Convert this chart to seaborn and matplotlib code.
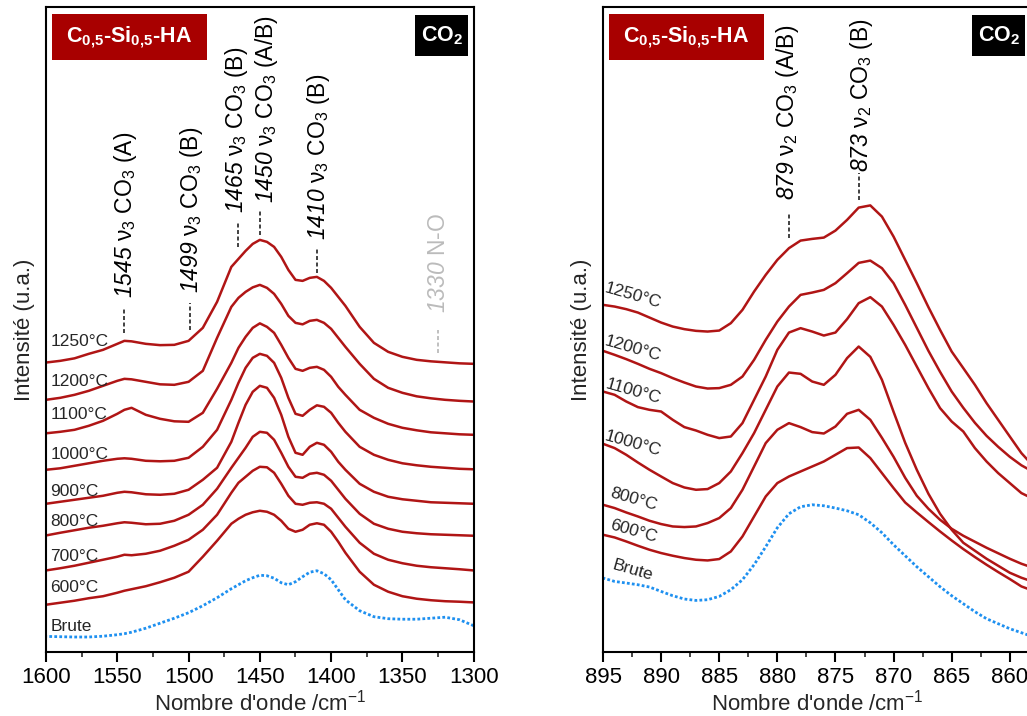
import matplotlib
matplotlib.use("Agg")
import matplotlib.pyplot as plt
import seaborn as sns
from matplotlib.patches import Rectangle
from matplotlib.ticker import MultipleLocator

# --- data (intensities in arbitrary units) ---
wn_left = [1600, 1590, 1580, 1570, 1560, 1550, 1545, 1540, 1530, 1520,
           1510, 1500, 1490, 1480, 1470, 1465, 1460, 1455, 1450, 1445,
           1440, 1435, 1430, 1425, 1420, 1415, 1410, 1405, 1400, 1395,
           1390, 1380, 1370, 1360, 1350, 1340, 1330, 1320, 1310, 1300]

left_1250 = [289.3, 291, 293.5, 298, 302, 308, 311, 310.5, 308, 306.7, 307, 311, 324, 350, 385, 393, 401, 408, 412, 410,
             405, 395, 382, 372, 371, 374, 375, 371, 364, 355, 346, 325, 309, 300, 295, 292, 290.5, 289.5, 288.5, 288]
left_1200 = [252, 254, 257, 261, 266, 271, 273, 272.5, 270, 267.5, 267, 270, 281, 314, 345, 354, 360, 364.5, 367, 364,
             358, 348, 336, 329, 327.5, 331, 332, 329, 323, 314, 305, 288, 273, 264, 259, 255.5, 253.5, 252, 251, 250.3]
left_1100 = [218.5, 220, 222, 226, 231, 238, 242, 244, 237, 233, 230.5, 230, 239, 263, 289, 304, 315, 324, 328.5, 325,
             319, 307, 294, 283, 281, 284, 285, 282, 275, 265, 257, 242, 234, 228, 224, 221.5, 219.5, 218.5, 217.5, 217]
left_1000 = [182, 183.5, 186, 188.5, 191, 193, 193.5, 193, 191, 190.5, 191, 194, 205, 222, 252, 269, 284, 294, 298, 296,
             289, 274, 254, 238, 236, 242, 246.5, 245, 239, 229, 220, 205, 197, 192, 188.5, 186.5, 185, 184, 183, 182.5]
left_900 = [148, 150, 152, 154, 156, 159, 160, 159.5, 157.5, 157, 158, 162, 172, 184, 210, 229, 247, 260, 266, 264,
            254, 237, 215, 199, 197, 205, 209, 207, 200, 190, 182, 168, 160, 155, 152.5, 151, 149.5, 149, 148.5, 148]
left_800 = [116.3, 119, 121.5, 124, 126, 128.5, 129.5, 129, 127.5, 128, 131, 137, 147, 163, 184, 194, 204, 215, 220, 219,
            212, 199, 185, 175, 174, 178, 179, 177, 171, 162, 153, 138, 128, 123, 120, 118.5, 117.5, 117, 116.5, 116]
left_700 = [81.3, 83.5, 86, 89, 92, 95, 97, 96.5, 98, 101, 106, 112, 122, 137, 159, 169, 175, 181, 185, 184.5,
            179, 168, 156, 148, 147, 149, 149.5, 148, 143, 134, 125, 109, 98, 92, 88.5, 86, 84.5, 83.5, 82.5, 81.3]
left_600 = [47, 49, 51, 53.5, 55.5, 59, 61, 62.5, 65.5, 69.5, 74, 80, 95, 111, 128, 133, 137, 139.5, 141, 140,
            137, 131, 123, 120, 122, 127, 128.5, 127, 120, 110, 99, 80, 67, 60, 55.5, 53, 51.5, 50.5, 50, 49.3]
left_brute = [15.3, 15, 14.7, 14.7, 15.5, 17, 18, 19.5, 23.5, 28.5, 33.5, 39, 46, 54, 63, 67, 71, 74, 76.5, 76,
              73.5, 69, 67, 70, 75, 79.5, 81, 78, 72, 62, 52, 41, 35, 33, 32.5, 32.5, 33.5, 34.5, 32, 26]

wn_right = [895, 894, 893, 892, 891, 890, 889, 888, 887, 886, 885, 884, 883, 882, 881, 880, 879, 878, 877,
            876, 875, 874, 873, 872, 871, 870, 869, 868, 867, 866, 865, 864, 863, 862, 861, 860, 859, 858]

right_1250 = [347, 345.3, 342.7, 339.3, 334.3, 329.3, 325.3, 322.7, 321, 320.3, 321.3, 328.7, 342, 360.3, 377, 392, 403.7, 411.3, 413,
              414.3, 421.3, 432, 444.3, 446.5, 435.3, 415.3, 392, 368.7, 344.7, 322, 300.3, 283.7, 267, 248.7, 232, 215.3, 198.7, 186]
right_1200 = [301, 297, 292.7, 288, 283, 278.7, 273.7, 269.3, 265.3, 263.3, 263.7, 267, 275.3, 292, 312, 330.3, 345.3, 357, 359.3,
              362, 368.7, 378.7, 389, 391.3, 383.7, 368.7, 347, 324, 301, 280, 260.3, 244, 229, 216, 205, 195, 186.5, 180]
right_1100 = [260.3, 257, 250.3, 244.7, 242, 240.3, 232, 224.7, 221.3, 217, 213.7, 215.3, 228.7, 252, 275.3, 302, 319.3, 323.7, 320.3,
              316.3, 319.3, 332.7, 348.7, 354.7, 345.3, 327, 307, 285.3, 263.7, 243.7, 230.3, 220.3, 203.7, 190.3, 178.7, 168.7, 158.7, 153]
right_1000 = [208, 203.7, 197, 189.3, 182, 175.3, 168.7, 164.3, 162, 162.7, 168.7, 180.3, 198.7, 218.7, 242, 265.3, 279.3, 278, 270.3,
              267, 277, 293.7, 305.3, 295, 272, 240, 209, 182, 158, 138, 122, 109, 101, 93, 86, 79, 74, 70]
right_800 = [147, 143.7, 139.3, 135.3, 131, 127.7, 125.3, 124.7, 125.3, 128.7, 133.7, 143.7, 162, 185.3, 208.7, 222, 228.7, 224.7, 219.7,
             218.3, 225.3, 238, 242, 232, 214, 195, 174, 156, 143, 132, 123, 116, 110, 104, 98.5, 93, 88, 84]
right_600 = [117, 114.3, 110.3, 106, 102, 98.7, 96, 93.7, 92, 91.3, 92.7, 100.3, 115.3, 135.3, 155.3, 168.7, 175.3, 180.3, 185.3,
             190.3, 197, 203.7, 204.3, 193.7, 178.7, 163.7, 149.3, 139.3, 129.7, 120.3, 111.3, 102.7, 94.7, 87, 79.7, 72.7, 65.3, 61]
right_brute = [73.7, 70.3, 68.7, 67, 64.7, 60.3, 56, 52.7, 51.3, 52, 55.3, 62, 72, 87, 105, 124, 138, 145, 147,
               146, 143.7, 141, 137, 129, 119, 107, 96, 85, 75, 65, 56, 48, 40, 33, 28, 23, 19, 15]

left_curves = [("1250°C", left_1250), ("1200°C", left_1200), ("1100°C", left_1100),
               ("1000°C", left_1000), ("900°C", left_900), ("800°C", left_800),
               ("700°C", left_700), ("600°C", left_600), ("Brute", left_brute)]
right_curves = [("1250°C", right_1250), ("1200°C", right_1200), ("1100°C", right_1100),
                ("1000°C", right_1000), ("800°C", right_800), ("600°C", right_600),
                ("Brute", right_brute)]

RED = "#B01515"
BLUE = "#1E90F0"

sns.set_style("ticks")
plt.rcParams["font.family"] = ["Liberation Sans", "DejaVu Sans"]
plt.rcParams["mathtext.fontset"] = "custom"
plt.rcParams["mathtext.rm"] = "Liberation Sans"
plt.rcParams["mathtext.it"] = "Liberation Sans:italic"
plt.rcParams["mathtext.sf"] = "Liberation Sans:italic"   # used for the italic band numbers
plt.rcParams["mathtext.bf"] = "Liberation Sans:bold"

fig = plt.figure(figsize=(10.27, 7.16), dpi=100)
fig.patch.set_facecolor("white")
W, H = 1027, 716
axL = fig.add_axes([46 / W, 1 - 651.7 / H, 427.7 / W, 644.7 / H])
axR = fig.add_axes([603 / W, 1 - 651.7 / H, 427.7 / W, 644.7 / H])


def draw(ax, wn, curves):
    for name, vals in curves:
        if name == "Brute":
            sns.lineplot(x=wn, y=vals, ax=ax, color=BLUE, lw=2.0,
                         linestyle=(0, (1, 0.8)), legend=False)
        else:
            sns.lineplot(x=wn, y=vals, ax=ax, color=RED, lw=1.8, legend=False)


def style(ax, xlim, major, minor):
    ax.set_xlim(*xlim)
    ax.set_ylim(0, 645)
    ax.set_yticks([])
    ax.xaxis.set_major_locator(MultipleLocator(major))
    ax.xaxis.set_minor_locator(MultipleLocator(minor))
    ax.tick_params(axis="x", which="major", direction="out", length=7, width=1.5,
                   labelsize=16, pad=4, colors="black")
    ax.tick_params(axis="x", which="minor", direction="out", length=3.5, width=1.2)
    for sp in ax.spines.values():
        sp.set_linewidth(1.5)
        sp.set_color("black")
        sp.set_visible(True)
    ax.set_xlabel("Nombre d'onde /cm$^{-1}$", fontsize=16, labelpad=1)
    ax.set_ylabel("Intensité (u.a.)", fontsize=16, labelpad=8)
    # sample / atmosphere tags
    ax.add_patch(Rectangle((0.0133, 0.9178), 0.3624, 0.0714, transform=ax.transAxes,
                           facecolor="#A80000", edgecolor="none", zorder=5, clip_on=False))
    ax.text(0.1945, 0.953, r"C$_{\mathbf{0{,}5}}$-Si$_{\mathbf{0{,}5}}$-HA", transform=ax.transAxes,
            ha="center", va="center", color="white", fontsize=15.5, fontweight="bold", zorder=6)
    ax.add_patch(Rectangle((0.8628, 0.924), 0.1246, 0.0636, transform=ax.transAxes,
                           facecolor="black", edgecolor="none", zorder=5, clip_on=False))
    ax.text(0.9251, 0.955, r"CO$_{\mathbf{2}}$", transform=ax.transAxes,
            ha="center", va="center", color="white", fontsize=15.5, fontweight="bold", zorder=6)


def mark(ax, x, y0, y1, ytxt, label, color="#333333", txtcolor="black", dx=0):
    ax.plot([x, x], [y0, y1], color=color, lw=1.3, linestyle=(0, (2.2, 1.4)))
    ax.text(x + dx, ytxt, label, rotation=90, ha="center", va="bottom",
            fontsize=16.5, color=txtcolor)


draw(axL, wn_left, left_curves)
style(axL, (1600, 1300), 50, 25)
draw(axR, wn_right, right_curves)
style(axR, (895, 858.2), 5, 2.5)

# left panel curve labels
left_label_y = [310, 270, 237, 197, 160, 130, 95, 64, 25]
for (name, _), y in zip(left_curves, left_label_y):
    axL.text(1597, y, name, ha="left", va="center", fontsize=12.5)

# right panel curve labels (tilted)
right_label_y = [356, 303, 260, 208, 152, 120, 81]
for (name, _), y in zip(right_curves, right_label_y):
    axR.text(892.4, y, name, ha="center", va="center", fontsize=12.5,
             rotation=-16, rotation_mode="anchor")

# band assignments
mark(axL, 1545, 319, 344, 354, r"$\mathsf{1545}$ ν$_3$ CO$_3$ (A)", dx=-1)
mark(axL, 1499, 322, 349, 359, r"$\mathsf{1499}$ ν$_3$ CO$_3$ (B)", dx=-1)
mark(axL, 1465, 405, 429, 439, r"$\mathsf{1465}$ ν$_3$ CO$_3$ (B)", dx=1.5)
mark(axL, 1450, 417, 442, 449, r"$\mathsf{1450}$ ν$_3$ CO$_3$ (A/B)", dx=-4.5)
mark(axL, 1410, 379, 404, 412, r"$\mathsf{1410}$ ν$_3$ CO$_3$ (B)", dx=-1)
mark(axL, 1325, 299, 322, 339, r"$\mathsf{1330}$ N-O", color="#BBBBBB", txtcolor="#BBBBBB")

mark(axR, 879, 414, 439, 452, r"$\mathsf{879}$ ν$_2$ CO$_3$ (A/B)", dx=0.1)
mark(axR, 873, 452, 479, 480, r"$\mathsf{873}$ ν$_2$ CO$_3$ (B)", dx=-0.2)

fig.savefig("out.png", dpi=100, facecolor="white")
